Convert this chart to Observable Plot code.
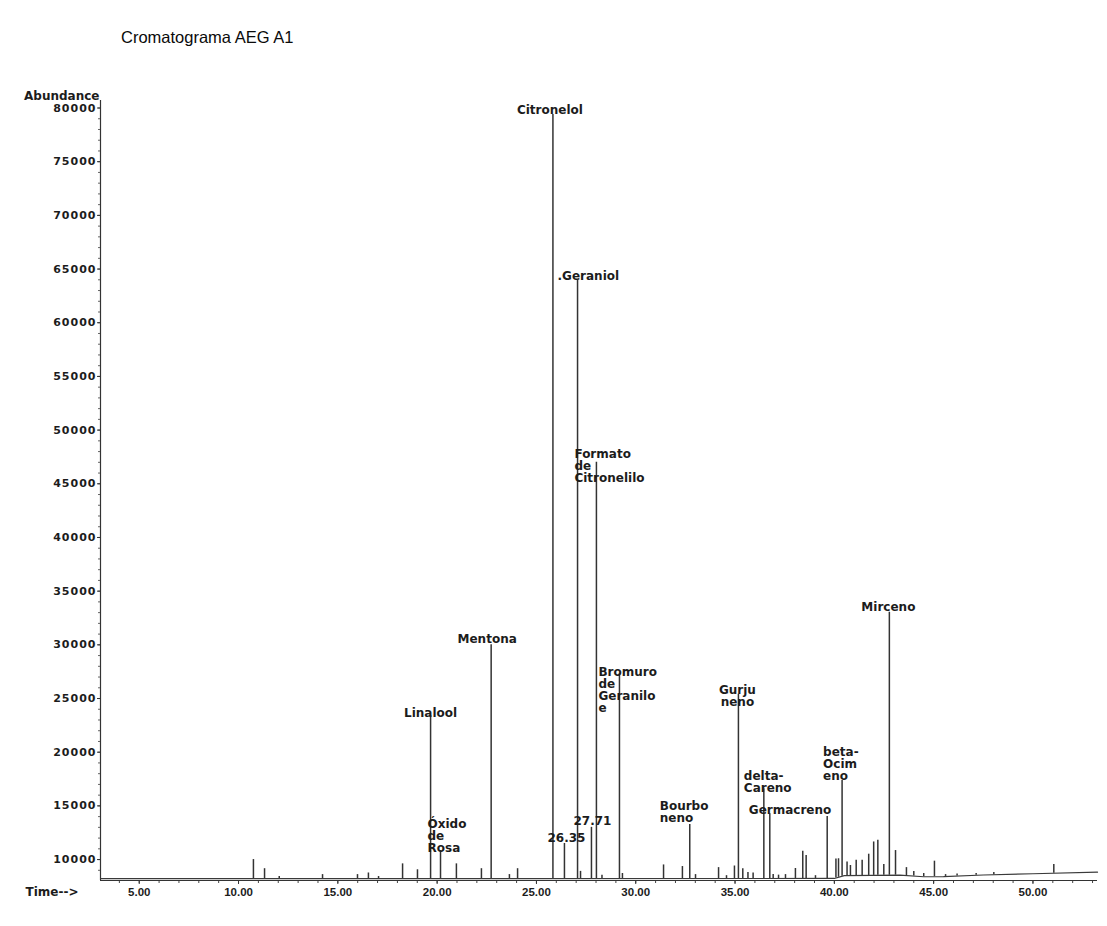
<!DOCTYPE html>
<html>
<head>
<meta charset="utf-8">
<script src="https://cdn.jsdelivr.net/npm/d3@7"></script>
<script src="https://cdn.jsdelivr.net/npm/@observablehq/plot@0.6"></script>
<style>
  body { margin: 0; background: #fff; }
  #title { height: 60px; box-sizing: border-box; padding: 28px 0 0 121px; font: 16.5px "Liberation Sans", Arial, sans-serif; color: #0a0a0a; line-height: 18px; }
  #chart svg { display: block; }
</style>
</head>
<body>
<div id="title">Cromatograma AEG A1</div>
<div id="chart"></div>
<script>
// ---- data ----
const peakTimes = [10.75, 11.31, 12.05, 14.23, 15.99, 16.54, 17.05, 18.26, 19.01, 19.67,
  20.17, 20.97, 22.23, 22.72, 23.64, 24.05, 25.83, 26.41, 27.07, 27.22,
  27.77, 28.02, 28.30, 29.18, 29.33, 31.40, 32.35, 32.72, 33.01, 34.17,
  34.57, 34.97, 35.17, 35.39, 35.65, 35.91, 36.45, 36.75, 36.92, 37.19,
  37.54, 38.04, 38.41, 38.58, 39.05, 39.64, 40.08, 40.21, 40.39, 40.64,
  40.81, 41.10, 41.40, 41.73, 41.98, 42.19, 42.49, 42.77, 43.08, 43.63,
  44.00, 44.50, 45.04, 45.60, 46.18, 47.14, 48.03, 51.05];
const peakAbundance = [10000, 9150, 8420, 8600, 8600, 8750, 8420, 9600, 9050, 23400,
  10840, 9600, 9150, 30000, 8600, 9150, 79400, 11500, 64000, 8900,
  13000, 47000, 8550, 27300, 8700, 9500, 9350, 13270, 8600, 9250,
  8500, 9400, 25400, 9150, 8800, 8750, 16600, 14270, 8600, 8550,
  8600, 9170, 10780, 10380, 8500, 14000, 10050, 10075, 17370, 9780,
  9450, 9940, 9940, 10500, 11640, 11800, 9540, 33040, 10840, 9250,
  8880, 8700, 9850, 8600, 8650, 8700, 8800, 9540];
const baselineTimes = [3.05, 40.0, 40.5, 43.3, 44.5, 45.5, 47.5, 50.0, 53.25];
const baselineAbundance = [8220, 8240, 8500, 8550, 8400, 8420, 8560, 8680, 8830];

const labelTexts = ["Linalool", "Óxido\nde\nRosa", "Mentona", "Citronelol", "26.35",
  ".Geraniol", "27.71", "Formato\nde\nCitronelilo", "Bromuro\nde\nGeranilo\ne",
  "Bourbo\nneno", "Gurju\nneno", "delta-\nCareno", "Germacreno", "beta-\nOcim\neno", "Mirceno"];
const labelPeakTimes = [19.67, 20.17, 22.72, 25.83, 26.41, 27.07, 27.77, 28.02, 29.18,
  32.72, 35.17, 36.45, 36.75, 40.39, 42.77];

const xTicks = [5, 10, 15, 20, 25, 30, 35, 40, 45, 50];
const yTicks = [10000, 15000, 20000, 25000, 30000, 35000, 40000, 45000, 50000, 55000, 60000, 65000, 70000, 75000, 80000];

// ---- label placement (style only: anchor and pixel offsets) ----
const labelLayout = [
  {anchor: "middle", dx: 0, dy: -7},
  {anchor: "start", dx: -13, dy: -31},
  {anchor: "middle", dx: -4, dy: -10},
  {anchor: "middle", dx: -3, dy: -9},
  {anchor: "middle", dx: 2, dy: -10},
  {anchor: "start", dx: -20, dy: -8},
  {anchor: "middle", dx: 1, dy: -11},
  {anchor: "start", dx: -22, dy: -13},
  {anchor: "start", dx: -21, dy: -6},
  {anchor: "start", dx: -30, dy: -23},
  {anchor: "middle", dx: -1, dy: -9},
  {anchor: "start", dx: -20, dy: -17},
  {anchor: "start", dx: -21, dy: -8},
  {anchor: "start", dx: -19, dy: -33},
  {anchor: "middle", dx: -1, dy: -10}
];

// ---- build tables ----
const baselineAt = d3.scaleLinear().domain(baselineTimes).range(baselineAbundance);
const peaks = peakTimes.map((t, i) => ({time: t, abundance: peakAbundance[i], base: baselineAt(t)}));
const baseline = baselineTimes.map((t, i) => ({time: t, abundance: baselineAbundance[i]}));
const labels = labelTexts.map((name, i) => {
  const p = peaks.find(d => d.time === labelPeakTimes[i]);
  return {name, time: p.time, abundance: p.abundance};
});

const xMin = 3.05, yMin = 8050;
const ink = "#1c1c1c";

const labelMarks = labels.map((l, i) => Plot.text([l], {
  x: "time", y: "abundance", text: "name",
  textAnchor: labelLayout[i].anchor, lineAnchor: "top",
  dx: labelLayout[i].dx, dy: labelLayout[i].dy,
  lineHeight: 1.0, fontSize: 12, fontWeight: "bold", fontFamily: "DejaVu Sans", fill: ink
}));

const chart = Plot.plot({
  width: 1107,
  height: 866,
  marginLeft: 100,
  marginRight: 10,
  marginTop: 40,
  marginBottom: 46,
  x: {domain: [xMin, 53.25], label: null},
  y: {domain: [yMin, 80700], label: null},
  style: {fontFamily: "DejaVu Sans", fontSize: "12px", fontWeight: "bold", color: ink, background: "white", overflow: "visible"},
  marks: [
    // minor ticks
    Plot.axisX({ticks: d3.range(4, 54, 1), tickSize: 3, tickFormat: () => "", stroke: "#444"}),
    Plot.axisY({ticks: d3.range(9000, 80001, 1000), tickSize: 2, tickFormat: () => "", stroke: "#666"}),
    // major ticks + labels
    Plot.axisX({ticks: xTicks, tickSize: 4, tickPadding: 3, tickFormat: d => d.toFixed(2),
      fontFamily: "Liberation Sans", fontSize: 11.5, fontWeight: "bold", fill: ink, stroke: "#333", label: null}),
    Plot.axisY({ticks: yTicks, tickSize: 3, tickPadding: 1, tickFormat: d3.format("d"),
      fontFamily: "DejaVu Sans", fontSize: 11, fontWeight: "bold", fill: ink, stroke: "#333", label: null}),
    // axis lines
    Plot.ruleX([xMin], {stroke: "#333", strokeWidth: 1.2}),
    Plot.ruleY([yMin], {stroke: "#333", strokeWidth: 1.2}),
    // signal
    Plot.line(baseline, {x: "time", y: "abundance", stroke: "#3a3a3a", strokeWidth: 1.2}),
    Plot.ruleX(peaks, {x: "time", y1: "base", y2: "abundance", stroke: "#333", strokeWidth: 1.5}),
    // compound labels
    ...labelMarks,
    // axis titles
    Plot.text(["Abundance"], {text: d => d, frameAnchor: "top-left", textAnchor: "end", lineAnchor: "middle",
      dx: -1, dy: -4, fontSize: 12, fontWeight: "bold", fontFamily: "DejaVu Sans", fill: ink}),
    Plot.text(["Time-->"], {text: d => d, frameAnchor: "bottom-left", textAnchor: "start", lineAnchor: "middle",
      dx: -75, dy: 12, fontSize: 12, fontWeight: "bold", fontFamily: "DejaVu Sans", fill: ink})
  ]
});
document.getElementById("chart").appendChild(chart);
// slightly widen y tick labels like the scanned original
chart.querySelectorAll('g[aria-label="y-axis tick label"] text').forEach(t => t.style.letterSpacing = "1px");
</script>
</body>
</html>
